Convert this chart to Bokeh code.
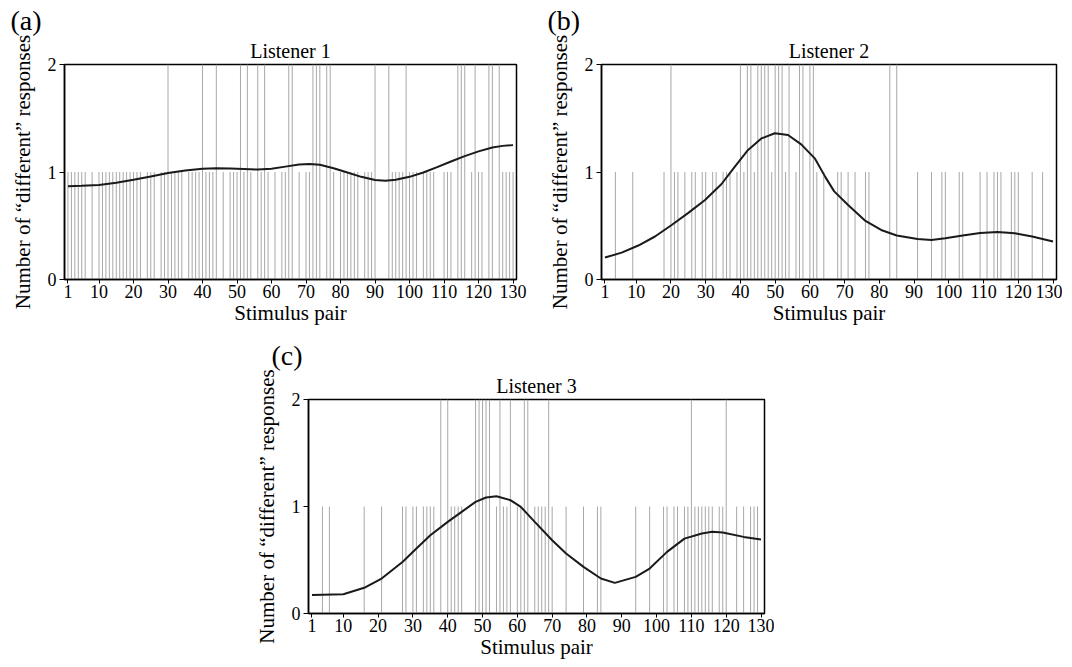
from bokeh.plotting import figure
from bokeh.models import FixedTicker, Spacer, Title
from bokeh.layouts import row, column
from bokeh.embed import file_html
from bokeh.resources import INLINE

FONT = "Liberation Serif"

pairs = list(range(1, 131))
x_tick_values = [1, 10, 20, 30, 40, 50, 60, 70, 80, 90, 100, 110, 120, 130]
y_tick_values = [0, 1, 2]

# Listener 1: number of "different" responses per stimulus pair (0, 1 or 2)
l1_twos = [30, 40, 44, 51, 53, 56, 58, 65, 66, 72, 73, 74, 76, 77, 90, 94, 99,
           114, 115, 116, 119, 123, 124, 126]
l1_zeros = [7, 9, 23, 27, 35, 45, 47, 55, 60, 62, 67, 69, 75, 79, 86, 91, 92, 93,
            103, 108, 109, 113, 117, 122, 125]
# Listener 2
l2_ones = [4, 9, 18, 21, 22, 24, 26, 27, 29, 30, 32, 33, 35, 36, 37, 39, 41, 44, 49,
           53, 56, 62, 64, 68, 69, 71, 73, 76, 77, 91, 95, 98, 99, 103, 104, 109, 111,
           113, 114, 115, 118, 119, 120, 124, 127]
l2_twos = [20, 40, 42, 43, 45, 46, 47, 48, 50, 51, 52, 54, 57, 58, 60, 61, 83, 85]
# Listener 3
l3_ones = [4, 6, 16, 21, 27, 28, 30, 31, 33, 34, 35, 36, 41, 42, 43, 44, 54, 56, 57,
           60, 61, 65, 66, 67, 68, 70, 74, 79, 83, 84, 94, 98, 102, 103, 105, 106, 108,
           109, 111, 112, 113, 114, 115, 116, 118, 119, 123, 125, 127, 128, 129]
l3_twos = [38, 40, 48, 49, 50, 51, 52, 55, 58, 62, 63, 69, 110, 120]

# smoothed curves
l1_curve_x = [1, 5, 10, 15, 20, 25, 30, 35, 40, 44, 48, 52, 56, 60, 64, 68, 71, 74, 78,
              82, 86, 90, 93, 96, 100, 104, 108, 112, 116, 120, 124, 127, 130]
l1_curve_y = [0.868, 0.872, 0.88, 0.9, 0.927, 0.958, 0.99, 1.015, 1.03, 1.035, 1.033,
              1.028, 1.023, 1.03, 1.05, 1.07, 1.074, 1.068, 1.035, 0.995, 0.955, 0.926,
              0.918, 0.928, 0.955, 0.995, 1.045, 1.098, 1.148, 1.192, 1.228, 1.243, 1.25]
l2_curve_x = [1, 5.8, 10.6, 15.4, 20.2, 25, 29.8, 34.5, 38.4, 42.2, 46.1, 49.9, 53.7,
              57.5, 61.4, 64.5, 67, 71, 76, 80.5, 85, 91, 95, 99, 104, 109, 114, 119,
              124, 130]
l2_curve_y = [0.204, 0.25, 0.316, 0.40, 0.507, 0.62, 0.74, 0.886, 1.05, 1.205, 1.313,
              1.36, 1.344, 1.257, 1.127, 0.95, 0.82, 0.693, 0.545, 0.461, 0.409, 0.377,
              0.368, 0.384, 0.409, 0.433, 0.442, 0.43, 0.4, 0.353]
l3_curve_x = [1, 10, 16, 21, 27, 31, 35, 40, 44, 48, 51, 54, 58, 61, 65, 70, 74, 79, 84,
              88, 94, 98, 103, 108, 113, 116, 119, 125, 130]
l3_curve_y = [0.174, 0.18, 0.24, 0.327, 0.482, 0.607, 0.732, 0.856, 0.95, 1.043, 1.084,
              1.096, 1.059, 0.996, 0.856, 0.685, 0.561, 0.436, 0.327, 0.286, 0.342, 0.42,
              0.576, 0.70, 0.748, 0.763, 0.757, 0.716, 0.692]

titles = ["Listener 1", "Listener 2", "Listener 3"]
letters = ["(a)", "(b)", "(c)"]
x_label = "Stimulus pair"
y_label = "Number of \u201cdifferent\u201d responses"


def counts_from(ones=None, twos=None, zeros=None, default=0):
    out = []
    for k in pairs:
        if twos and k in twos:
            out.append(2)
        elif zeros and k in zeros:
            out.append(0)
        elif ones and k in ones:
            out.append(1)
        else:
            out.append(default)
    return out


l1_counts = counts_from(twos=l1_twos, zeros=l1_zeros, default=1)
l2_counts = counts_from(ones=l2_ones, twos=l2_twos)
l3_counts = counts_from(ones=l3_ones, twos=l3_twos)


def panel(counts, cx, cy, title, letter, width, height, ml, mr, mt, mb, loff):
    p = figure(width=width, height=height, x_range=(0, 131), y_range=(0, 2),
               output_backend="svg", toolbar_location=None, title=letter,
               min_border_left=ml, min_border_right=mr,
               min_border_top=mt, min_border_bottom=mb)
    p.title.align = "left"
    p.title.offset = loff
    p.title.text_font = FONT
    p.title.text_font_size = "28px"
    p.title.text_font_style = "normal"
    p.title.text_color = "black"
    p.title.standoff = 0
    p.add_layout(Title(text=title, align="center", text_font=FONT,
                       text_font_size="20px", text_font_style="normal",
                       text_color="black", standoff=5), "above")

    xs = [k for k, c in zip(pairs, counts) if c > 0]
    ys = [c for c in counts if c > 0]
    p.segment(x0=xs, y0=[0] * len(xs), x1=xs, y1=ys, line_color="#a8a8a8", line_width=1)
    p.line(cx, cy, line_color="#1a1a1a", line_width=2)

    p.xgrid.visible = False
    p.ygrid.visible = False
    p.outline_line_color = "black"
    p.outline_line_width = 1.5
    p.background_fill_color = "white"
    p.border_fill_color = "white"

    for ax in (p.xaxis, p.yaxis):
        ax.axis_line_color = "black"
        ax.axis_line_width = 1.5
        ax.major_tick_line_color = "black"
        ax.major_tick_out = 5
        ax.major_tick_in = 0
        ax.minor_tick_line_color = None
        ax.major_label_text_font = FONT
        ax.major_label_text_font_size = "18px"
        ax.major_label_text_color = "black"
        ax.axis_label_text_font = FONT
        ax.axis_label_text_font_size = "21px"
        ax.axis_label_text_font_style = "normal"
        ax.axis_label_text_color = "black"
    p.xaxis.ticker = FixedTicker(ticks=x_tick_values)
    p.yaxis.ticker = FixedTicker(ticks=y_tick_values)
    p.xaxis.axis_label = x_label
    p.yaxis.axis_label = y_label
    p.xaxis.major_tick_out = 4
    p.xaxis.major_label_standoff = 1
    p.yaxis.major_label_standoff = 3
    p.xaxis.axis_label_standoff = 0
    p.yaxis.axis_label_standoff = 10
    return p


pa = panel(l1_counts, l1_curve_x, l1_curve_y, titles[0], letters[0],
           520, 330, 54, 11, 62, 53, -54)
pb = panel(l2_counts, l2_curve_x, l2_curve_y, titles[1], letters[1],
           535, 330, 74, 6, 62, 53, -54)
pc = panel(l3_counts, l3_curve_x, l3_curve_y, titles[2], letters[2],
           546, 333, 80, 10, 67, 52, -37)

grid = column(row(pa, pb), row(Spacer(width=221, height=333), pc))
layout = column(Spacer(width=1060, height=2), row(Spacer(width=7, height=660), grid))

open("out.html", "w").write(file_html(layout, INLINE))
